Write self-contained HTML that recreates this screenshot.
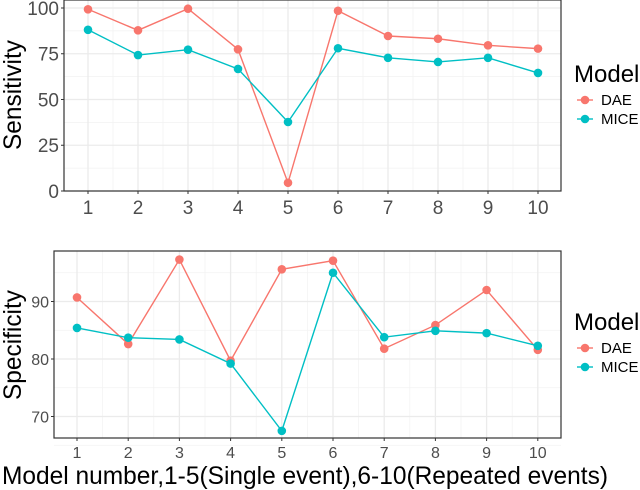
<!DOCTYPE html>
<html><head><meta charset="utf-8"><style>
body{margin:0;background:#fff;}
svg{display:block;font-family:"Liberation Sans",sans-serif;}
</style></head><body>
<svg id="chart" width="640" height="490"></svg>
<script>
const models = [1,2,3,4,5,6,7,8,9,10];
const sensDAE = [99.3,87.8,99.6,77.4,4.5,98.5,84.7,83.2,79.6,77.8];
const sensMICE = [88.1,74.3,77.2,66.7,37.7,78,72.8,70.5,72.8,64.5];
const specDAE = [90.7,82.6,97.3,79.7,95.6,97.1,81.8,85.9,92,81.6];
const specMICE = [85.4,83.7,83.4,79.2,67.5,95,83.8,84.9,84.5,82.3];
const sensTicks = [0,25,50,75,100];
const specTicks = [70,80,90];
const seriesNames = ["DAE","MICE"];
const colors = {DAE:"#F8766D", MICE:"#00BFC4"};

const NS="http://www.w3.org/2000/svg";
const svg=document.getElementById('chart');
function mk(tag,attrs,parent){const e=document.createElementNS(NS,tag);for(const k in attrs)e.setAttribute(k,attrs[k]);(parent||svg).appendChild(e);return e;}

function panel(cfg){
  const g=mk('g',{});
  
  
  const {L,R,T,B,xs,ys,ticks,minor}=cfg;
  const X=i=>xs(i), Y=v=>ys(v);
  for(const m of minor){mk('line',{x1:L,x2:R,y1:Y(m),y2:Y(m),stroke:'#f2f2f2','stroke-width':0.7},g);}
  for(let i=0.5;i<=10.5;i+=1){if(X(i)>L&&X(i)<R)mk('line',{x1:X(i),x2:X(i),y1:T,y2:B,stroke:'#f2f2f2','stroke-width':0.7},g);}
  for(const t of ticks){mk('line',{x1:L,x2:R,y1:Y(t),y2:Y(t),stroke:'#ebebeb','stroke-width':1.3},g);}
  for(const m of models){mk('line',{x1:X(m),x2:X(m),y1:T,y2:B,stroke:'#ebebeb','stroke-width':1.3},g);}
  mk('rect',{x:L,y:T,width:R-L,height:B-T,fill:'none',stroke:'#333','stroke-width':1.2},g);
  for(const t of ticks){
    mk('line',{x1:L-3,x2:L,y1:Y(t),y2:Y(t),stroke:'#333'},g);
    const tx=mk('text',{x:L-5,y:Y(t)+cfg.fs*0.36,'text-anchor':'end','font-size':cfg.fs,fill:'#4d4d4d'},g);tx.textContent=t;
    
    
  }
  for(const m of models){
    mk('line',{x1:X(m),x2:X(m),y1:B,y2:B+3,stroke:'#333'},g);
    const tx=mk('text',{x:X(m),y:B+cfg.fs+4,'text-anchor':'middle','font-size':cfg.fs,fill:'#4d4d4d'},g);tx.textContent=m;
    
    
  }
  const data={DAE:cfg.dae,MICE:cfg.mice};
  for(const s of seriesNames){
    const pts=data[s].map((v,i)=>X(models[i])+','+Y(v)).join(' ');
    const pl=mk('polyline',{points:pts,fill:'none',stroke:colors[s],'stroke-width':1.4},g);
    
    
    data[s].forEach((v,i)=>{
      const c=mk('circle',{cx:X(models[i]),cy:Y(v),r:4.3,fill:colors[s]},g);
      
      
    });
  }
  const yt=mk('text',{x:0,y:0,transform:`translate(${cfg.ytx},${cfg.ytc}) rotate(-90)`,'text-anchor':'middle','font-size':25,fill:'#000',textLength:110,lengthAdjust:'spacingAndGlyphs'},g);
  yt.textContent=cfg.ytitle;
  
  
  const lg=mk('g',{},g);
  
  
  const tt=mk('text',{x:574,y:cfg.legY,'font-size':24,fill:'#000'},lg);tt.textContent='Model';
  seriesNames.forEach((s,k)=>{
    const yy=cfg.legY+18+k*19;
    mk('line',{x1:577,x2:593,y1:yy,y2:yy,stroke:colors[s],'stroke-width':1.4},lg);
    const c=mk('circle',{cx:585,cy:yy,r:4.3,fill:colors[s]},lg);
    
    
    const t=mk('text',{x:601,y:yy+5,'font-size':15,fill:'#000'},lg);t.textContent=s;
    
    
  });
}

panel({name:'sensitivity-panel',L:64,R:561,T:0,B:191,
  xs:m=>88+(m-1)*50, ys:v=>191-1.83*v,
  ticks:sensTicks, minor:[12.5,37.5,62.5,87.5], fs:19,
  dae:sensDAE, mice:sensMICE, ytitle:'Sensitivity', ytx:21, ytc:95, legY:82});
panel({name:'specificity-panel',L:54,R:561,T:251,B:438,
  xs:m=>77+(m-1)*51.2, ys:v=>359-(v-80)*5.75,
  ticks:specTicks, minor:[65,75,85,95], fs:16,
  dae:specDAE, mice:specMICE, ytitle:'Specificity', ytx:21, ytc:345, legY:330});

const xt=mk('text',{x:2,y:484,'text-anchor':'start','font-size':25,fill:'#000',textLength:606,lengthAdjust:'spacingAndGlyphs'});
xt.textContent='Model number,1-5(Single event),6-10(Repeated events)';


</script>
</body></html>
